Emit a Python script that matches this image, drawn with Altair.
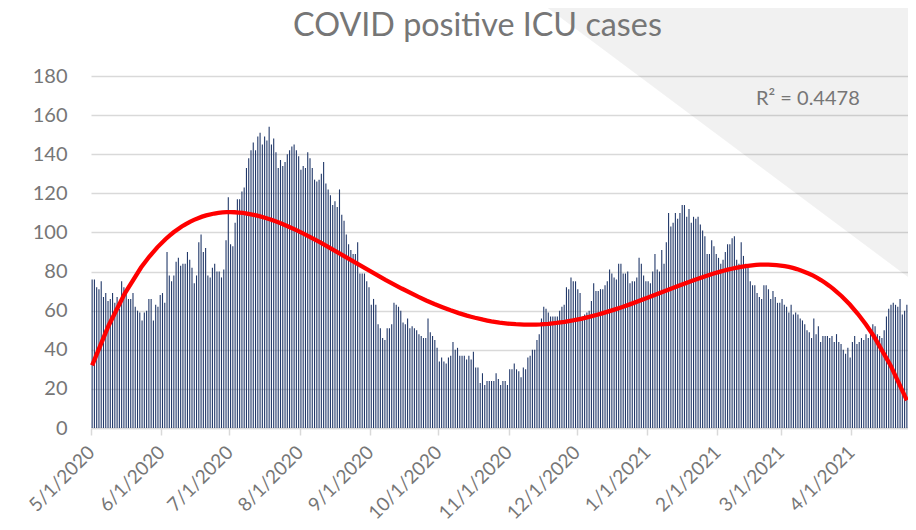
import altair as alt
import pandas as pd

# Daily COVID-positive ICU cases, 5/1/2020 .. 4/25/2021 (one list per month)
may_2020 = [76, 76, 72, 71, 75, 67, 69, 65, 66, 69, 64, 67, 61, 75, 72, 69, 66, 66, 69, 62,
            60, 59, 55, 59, 60, 66, 66, 55, 63, 62, 68]
jun_2020 = [69, 64, 90, 78, 75, 78, 85, 87, 83, 84, 84, 90, 86, 82, 74, 78, 95, 99, 90, 92,
            78, 77, 82, 84, 80, 80, 77, 81, 96, 118]
jul_2020 = [94, 93, 105, 117, 117, 121, 123, 133, 138, 142, 146, 142, 149, 151, 145, 149,
            147, 154, 145, 148, 141, 133, 137, 134, 136, 140, 142, 144, 145, 142, 139]
aug_2020 = [132, 134, 133, 141, 138, 133, 127, 126, 127, 130, 136, 125, 122, 119, 114, 116,
            113, 122, 109, 106, 99, 94, 91, 89, 89, 95, 79, 79, 79, 75, 72]
sep_2020 = [63, 66, 63, 53, 51, 46, 45, 51, 51, 53, 64, 63, 62, 60, 54, 53, 56, 51, 52, 51,
            50, 48, 47, 46, 46, 56, 49, 47, 45, 41]
oct_2020 = [34, 36, 34, 33, 36, 37, 44, 40, 41, 37, 37, 37, 35, 37, 35, 39, 31, 31, 23, 28,
            22, 24, 24, 24, 24, 28, 25, 22, 24, 24, 22]
nov_2020 = [30, 30, 33, 30, 29, 26, 31, 30, 36, 37, 40, 40, 45, 48, 56, 62, 61, 59, 57, 57,
            57, 57, 60, 62, 63, 72, 71, 77, 75, 75]
dec_2020 = [71, 69, 57, 58, 59, 60, 65, 74, 70, 70, 71, 71, 73, 75, 81, 79, 77, 76, 84, 84,
            79, 79, 80, 74, 75, 75, 77, 87, 84, 78, 75]
jan_2021 = [75, 74, 80, 89, 81, 80, 91, 84, 95, 110, 103, 105, 110, 107, 110, 114, 114, 108,
            112, 105, 108, 107, 108, 104, 101, 98, 89, 89, 96, 93, 89]
feb_2021 = [87, 84, 86, 90, 94, 94, 97, 98, 86, 84, 95, 88, 84, 82, 75, 73, 73, 69, 67, 66,
            73, 73, 71, 66, 70, 67, 64, 64]
mar_2021 = [66, 63, 62, 59, 63, 58, 59, 58, 56, 55, 53, 50, 49, 46, 56, 48, 52, 44, 47, 47,
            47, 46, 47, 44, 48, 44, 43, 40, 38, 41, 36]
apr_2021 = [44, 47, 43, 44, 46, 45, 48, 46, 49, 53, 52, 48, 47, 46, 50, 57, 61, 63, 64, 63,
            62, 66, 58, 60, 63]

values = (may_2020 + jun_2020 + jul_2020 + aug_2020 + sep_2020 + oct_2020 + nov_2020
          + dec_2020 + jan_2021 + feb_2021 + mar_2021 + apr_2021)

title_text = "COVID positive ICU cases"
r2_text = "R\u00b2 = 0.4478"
y_ticks = [0, 20, 40, 60, 80, 100, 120, 140, 160, 180]

df = pd.DataFrame({"day": list(range(len(values))), "value": values})
one = pd.DataFrame({"k": [0]})

FONT = "Lato"
TXT = "#767676"
GRID = "#d9d9d9"
START = "time(datetime(2020, 4, 1))"

x_scale = alt.Scale(domain=[alt.DateTime(year=2020, month=5, date=1),
                            alt.DateTime(year=2021, month=4, date=26)], padding=0)
y_scale = alt.Scale(domain=[0, 180], nice=False)

x_axis = alt.Axis(format="%-m/%-d/%Y", tickCount={"interval": "month", "step": 1},
                  labelAngle=-45, labelAlign="right", labelBaseline="middle",
                  labelFont=FONT, labelFontSize=19, labelColor=TXT, labelPadding=14,
                  labelFlush=False, labelOverlap=False, tickColor=GRID, tickSize=7,
                  tickWidth=1.5, domainColor=GRID, domainWidth=1.5, grid=False, title=None)
y_axis = alt.Axis(values=y_ticks, grid=True, gridColor=GRID, gridWidth=1.3, domain=False,
                  ticks=False, tickSize=0, labelPadding=24, labelFont=FONT,
                  labelFontSize=20, labelColor=TXT, labelOverlap=False, title=None)

tri = alt.Chart(one).mark_point(
    shape="M -1 -0.7467 L 1 -0.7467 L 1 0.7467 Z", filled=True, color="black",
    opacity=0.055, size=379 * 379, strokeWidth=0,
).encode(x=alt.value(635.5), y=alt.value(65.5))

bars = alt.Chart(df).transform_calculate(
    date=START + " + (datum.day + 0.5) * 86400000"
).mark_bar(size=1.1, color="#22396a").encode(
    x=alt.X("date:T", scale=x_scale, axis=x_axis),
    y=alt.Y("value:Q", scale=y_scale, axis=y_axis),
)

trend = alt.Chart(df).transform_calculate(
    t="datum.day + 0.5"
).transform_regression(
    "t", "value", method="poly", order=4
).transform_calculate(
    date=START + " + datum.t * 86400000"
).mark_line(color="#ff0000", strokeWidth=4.3).encode(
    x=alt.X("date:T", scale=x_scale, axis=x_axis),
    y=alt.Y("value:Q", scale=y_scale, axis=y_axis),
)

r2 = alt.Chart(one).mark_text(
    text=r2_text, font=FONT, fontSize=20, color=TXT, align="left", baseline="middle"
).encode(x=alt.value(665), y=alt.value(23))

title = alt.Chart(one).mark_text(
    text=title_text, font=FONT, fontSize=32.3, color=TXT, align="center",
    baseline="alphabetic"
).encode(x=alt.value(386.5), y=alt.value(-40))

chart = alt.layer(tri, bars, trend, r2, title).properties(
    width=817, height=352,
    padding={"left": 83, "top": 68, "right": 0, "bottom": 94},
    autosize=alt.AutoSizeParams(type="none"),
    background="white",
).configure_view(stroke=None)

chart.save("out.html", embed_options={"renderer": "svg", "actions": False})
